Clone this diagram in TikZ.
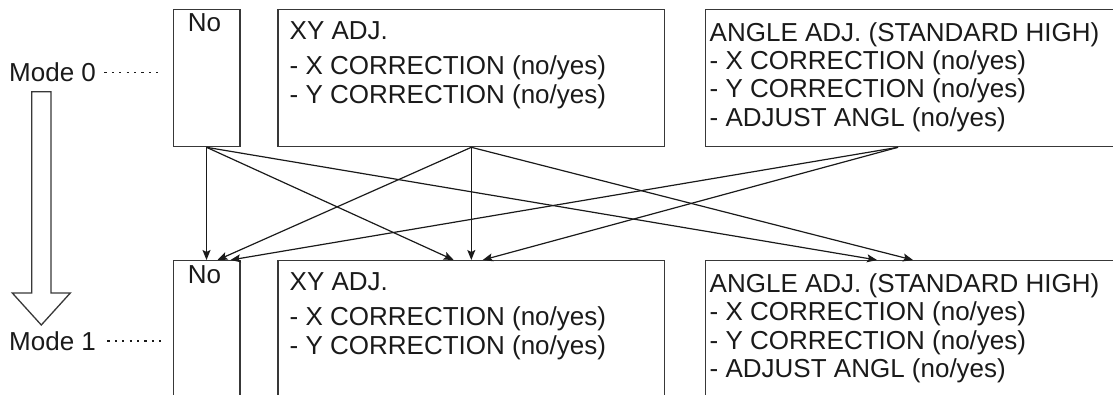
\documentclass[tikz,border=0pt]{standalone}
\usepackage{fontspec}
\setmainfont{Liberation Sans}
\usetikzlibrary{arrows.meta,calc}
\definecolor{ink}{HTML}{1A1A1A}
\definecolor{frame}{HTML}{383838}

\begin{document}
\begin{tikzpicture}[x=1pt,y=-1pt,>={Stealth[length=10pt,width=8pt,inset=2pt]},
  font=\fontsize{26}{28.3}\selectfont,
  box/.style={draw=frame,line width=1.3pt,anchor=north west,inner sep=0pt},
  txt/.style={text=ink,anchor=base west,inner sep=0pt},
  link/.style={->,ink,line width=1.2pt},
  dots/.style={ink,line width=1.8pt,dash pattern=on 2.2pt off 5.2pt}]
\useasboundingbox (0,0) rectangle (1113,394);
\clip (0,0) rectangle (1113,394);
% mode labels and the big hollow arrow
\node[txt] (mode0) at (9,81.7) {Mode 0};
\node[txt] (mode1) at (9,350) {Mode 1};
\draw[dots] ([xshift=8.3pt]mode0.east) -- ([xshift=64.3pt]mode0.east);
\draw[dots] ([xshift=11.3pt]mode1.east) -- ([xshift=66.3pt]mode1.east);
\draw[frame,line width=1.3pt,fill=white] (31.7,91.7) -- (51,91.7) -- (51,293)
  -- (70.3,293) -- (41.3,325) -- (12.3,293) -- (31.7,293) -- cycle;
% one row of boxes per mode
\foreach \r/\ty/\h in {0/8.7/137.3,1/260/160}{
  \node[box,minimum width=66.7pt,minimum height=\h pt] (no\r) at (172.5,\ty) {};
  \node[box,minimum width=386.7pt,minimum height=\h pt] (xy\r) at (277.3,\ty) {};
  \node[box,minimum width=430pt,minimum height=\h pt] (ang\r) at (705,\ty) {};
  \node[txt,anchor=base] at ($(no\r.north)+(-2,23)$) {No};
  \node[txt] at ($(xy\r.north west)+(12.2,30.5)$) {XY ADJ.};
  \node[txt] at ($(xy\r.north west)+(12.2,65.5)$) {- X CORRECTION (no/yes)};
  \node[txt] at ($(xy\r.north west)+(12.2,94.5)$) {- Y CORRECTION (no/yes)};
  \node[txt] at ($(ang\r.north west)+(4.5,32.5)$) {ANGLE ADJ. (STANDARD HIGH)};
  \node[txt] at ($(ang\r.north west)+(4.5,60.8)$) {- X CORRECTION (no/yes)};
  \node[txt] at ($(ang\r.north west)+(4.5,89.1)$) {- Y CORRECTION (no/yes)};
  \node[txt] at ($(ang\r.north west)+(4.5,117.4)$) {- ADJUST ANGL (no/yes)};
}
\coordinate (ang0out) at ([xshift=193pt]ang0.south west);
% transitions from mode 0 to mode 1
\draw[link] (no0.south) -- (no1.north);
\draw[link] (no0.south) -- ([xshift=-17.6pt]xy1.north);
\draw[link] (no0.south) -- ([xshift=172pt]ang1.north west);
\draw[link] (xy0.south) -- ([xshift=11pt]no1.north);
\draw[link] (xy0.south) -- (xy1.north);
\draw[link] (xy0.south) -- ([xshift=208pt]ang1.north west);
\draw[link] (ang0out) -- ([xshift=24pt]no1.north);
\draw[link] (ang0out) -- ([xshift=11.4pt]xy1.north);
\end{tikzpicture}
\end{document}
